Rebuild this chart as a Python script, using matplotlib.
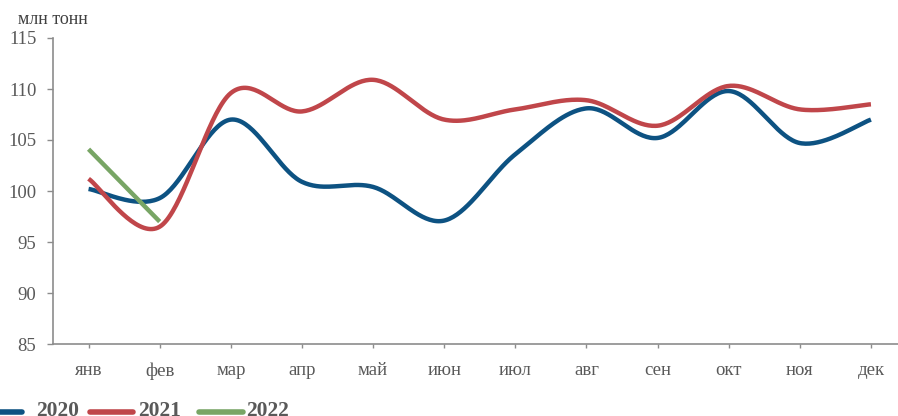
import numpy as np
import matplotlib
matplotlib.use("Agg")
import matplotlib.pyplot as plt
from matplotlib.lines import Line2D

# Monthly volumes, million tonnes
months = ["янв", "фев", "мар", "апр", "май", "июн",
          "июл", "авг", "сен", "окт", "ноя", "дек"]
values_2020 = [100.2, 99.3, 107.0, 100.9, 100.4, 97.1,
               103.6, 108.1, 105.2, 109.8, 104.7, 107.0]
values_2021 = [101.2, 96.5, 109.6, 107.8, 110.9, 107.0,
               108.0, 108.9, 106.4, 110.3, 108.0, 108.5]
values_2022 = [104.1, 97.0]

series_names = ["2020", "2021", "2022"]
series_colors = ["#0d5282", "#c0464a", "#78a565"]

FONT = "Liberation Serif"
GRAY = "#8c8c8c"
TEXT = "#595959"


def smooth(xs, ys, n=40):
    """Catmull-Rom style smoothing through every point (Bezier segments)."""
    pts = np.column_stack([xs, ys]).astype(float)
    if len(pts) < 3:
        return pts[:, 0], pts[:, 1]
    ext = np.vstack([pts[0], pts, pts[-1]])
    out = []
    t = np.linspace(0, 1, n)[:, None]
    for i in range(1, len(ext) - 2):
        p0, p1, p2, p3 = ext[i - 1], ext[i], ext[i + 1], ext[i + 2]
        b1 = p1 + (p2 - p0) / 6.0
        b2 = p2 - (p3 - p1) / 6.0
        seg = ((1 - t) ** 3) * p1 + 3 * ((1 - t) ** 2) * t * b1 \
            + 3 * (1 - t) * t ** 2 * b2 + t ** 3 * p2
        out.append(seg if i == 1 else seg[1:])
    c = np.vstack(out)
    return c[:, 0], c[:, 1]


W, H = 898, 416
fig = plt.figure(figsize=(W / 100, H / 100), dpi=100)
ax = fig.add_axes([53 / W, 1 - 344 / H, (906.5 - 53) / W, (344 - 38) / H])

for vals, col in zip([values_2020, values_2021, values_2022], series_colors):
    x = np.arange(len(vals))
    sx, sy = smooth(x, vals)
    ax.plot(sx, sy, color=col, lw=3.2, solid_capstyle="butt", zorder=3)

ax.set_xlim(-0.5, 11.5)
ax.set_ylim(85, 115)
ax.set_yticks(range(85, 116, 5))
ax.set_xticks(range(len(months)))
ax.set_xticklabels(months)

for s in ["top", "right"]:
    ax.spines[s].set_visible(False)
for s in ["left", "bottom"]:
    ax.spines[s].set_color(GRAY)
    ax.spines[s].set_linewidth(1.2)

ax.tick_params(axis="y", direction="out", length=4, width=1, color=GRAY,
               pad=8, labelsize=13.5, labelcolor=TEXT)
ax.tick_params(axis="x", direction="out", length=3, width=1, color=GRAY,
               pad=10, labelsize=13.5, labelcolor=TEXT)
for lab in ax.get_xticklabels() + ax.get_yticklabels():
    lab.set_fontfamily(FONT)

fig.text(18 / W, 1 - 19 / H, "млн тонн", fontfamily=FONT, fontsize=13,
         color="#404040", ha="left", va="center")

# Legend along the bottom edge: handle span and label start, in pixels
legend_handles_px = [(-21, 22), (90, 133), (199, 243)]
legend_text_px = [36, 138, 246]
leg_y = 1 - 412 / H
for name, col, (x0, x1), tx in zip(series_names, series_colors,
                                    legend_handles_px, legend_text_px):
    fig.add_artist(Line2D([x0 / W, x1 / W], [leg_y, leg_y], color=col,
                          lw=4, solid_capstyle="round",
                          transform=fig.transFigure))
    fig.text(tx / W, 1 - 416.5 / H, name, fontfamily=FONT, fontweight="bold",
             fontsize=15.5, color=TEXT, ha="left", va="baseline")

fig.savefig("out.png", dpi=100)
